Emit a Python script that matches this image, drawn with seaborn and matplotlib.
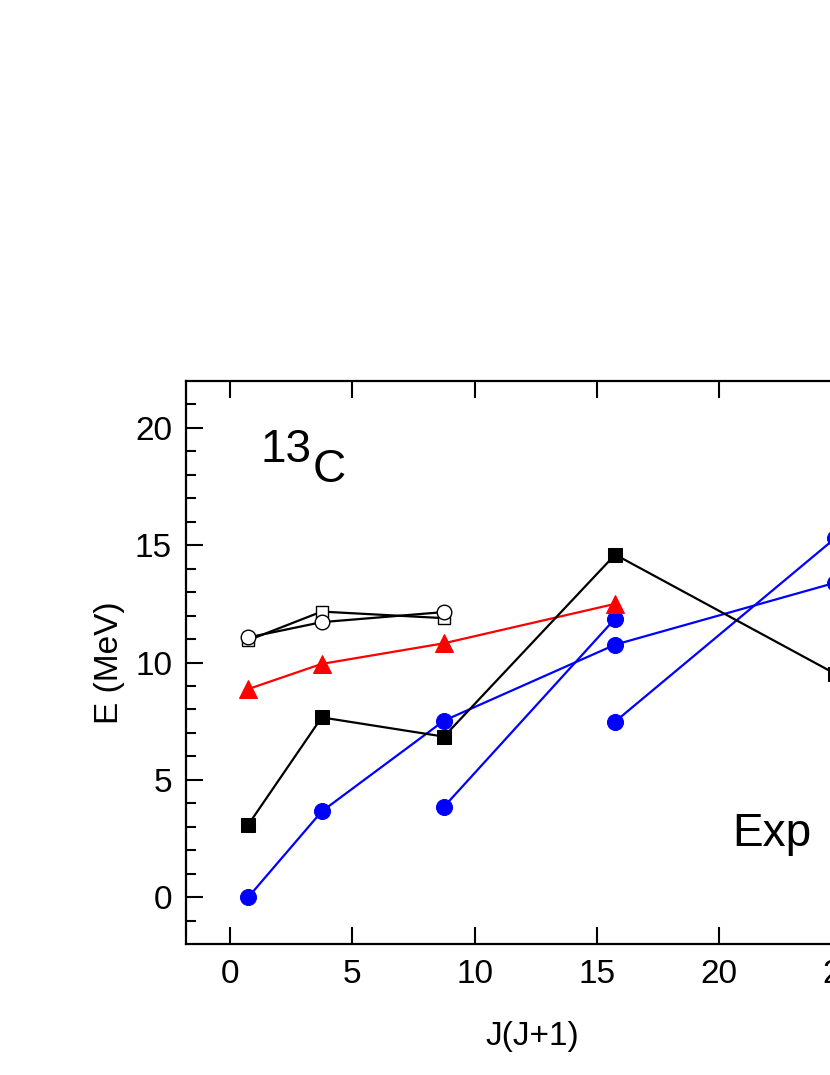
import numpy as np
import matplotlib
matplotlib.use('Agg')
import matplotlib.pyplot as plt
import seaborn as sns

sns.set_style('ticks')
plt.rcParams['font.family'] = ['Liberation Sans', 'DejaVu Sans']
plt.rcParams['text.color'] = 'black'
plt.rcParams['axes.labelcolor'] = 'black'
plt.rcParams['xtick.color'] = 'black'
plt.rcParams['ytick.color'] = 'black'
plt.rcParams['axes.edgecolor'] = 'black'

# J(J+1) for J = 1/2 ... 9/2
jj = [0.75, 3.75, 8.75, 15.75, 24.75]

# series values (MeV)
sq_black_x = jj
sq_black_y = [3.09, 7.66, 6.84, 14.6, 9.52]
sq_open_x = jj[:3]
sq_open_y = [10.95, 12.17, 11.89]
circ_open_x = jj[:3]
circ_open_y = [11.07, 11.72, 12.15]
tri_red_x = jj[:4]
tri_red_y = [8.87, 9.94, 10.82, 12.5]
blue_a_x = jj
blue_a_y = [0.0, 3.65, 7.52, 10.76, 13.4]
blue_b_x = [8.75, 15.75]
blue_b_y = [3.85, 11.87]
blue_c_x = [15.75, 24.75]
blue_c_y = [7.48, 15.3]

fig = plt.figure(figsize=(8.3, 10.75), dpi=100)
ax = fig.add_axes([186 / 830, 1 - 944 / 1075, (878 - 186) / 830, (944 - 381) / 1075])

common = dict(estimator=None, linewidth=1.6, ax=ax)
for bx, by in [(blue_a_x, blue_a_y), (blue_b_x, blue_b_y), (blue_c_x, blue_c_y)]:
    sns.lineplot(x=bx, y=by, color='blue', marker='o', markersize=11.5,
                 markeredgecolor='blue', **common)
sns.lineplot(x=tri_red_x, y=tri_red_y, color='red', marker='^', markersize=12.5,
             markeredgecolor='red', **common)
sns.lineplot(x=sq_black_x, y=sq_black_y, color='black', marker='s', markersize=9.5,
             markeredgecolor='black', **common)
sns.lineplot(x=sq_open_x, y=sq_open_y, color='black', marker='s', markersize=9,
             markerfacecolor='white', markeredgecolor='black', markeredgewidth=1, **common)
sns.lineplot(x=circ_open_x, y=circ_open_y, color='black', marker='o', markersize=10.5,
             markerfacecolor='white', markeredgecolor='black', markeredgewidth=1, **common)

ax.set_xlim(-1.8, 26.5)
ax.set_ylim(-2, 22)
ax.set_xticks([0, 5, 10, 15, 20, 25])
ax.set_yticks([0, 5, 10, 15, 20])
ax.set_yticks(np.arange(-1, 22, 1), minor=True)
ax.tick_params(axis='both', which='major', direction='in', length=12, width=1.5,
               labelsize=24, top=True, right=True)
ax.tick_params(axis='x', which='major', pad=11)
ax.tick_params(axis='y', which='major', pad=10)
ax.tick_params(axis='y', which='minor', direction='in', length=7, width=1.5, right=True)
for s in ax.spines.values():
    s.set_linewidth(1.6)
    s.set_visible(True)

ax.set_xlabel('J(J+1)', fontsize=24, labelpad=22)
ax.set_ylabel('E (MeV)', fontsize=24, labelpad=7)

ax.text(0.108, 0.856, '13', transform=ax.transAxes, fontsize=33, ha='left', va='baseline')
ax.text(0.183, 0.8206, 'C', transform=ax.transAxes, fontsize=33, ha='left', va='baseline')
ax.text(0.79, 0.174, 'Exp', transform=ax.transAxes, fontsize=33, ha='left', va='baseline')

fig.savefig('out.png', dpi=100)
